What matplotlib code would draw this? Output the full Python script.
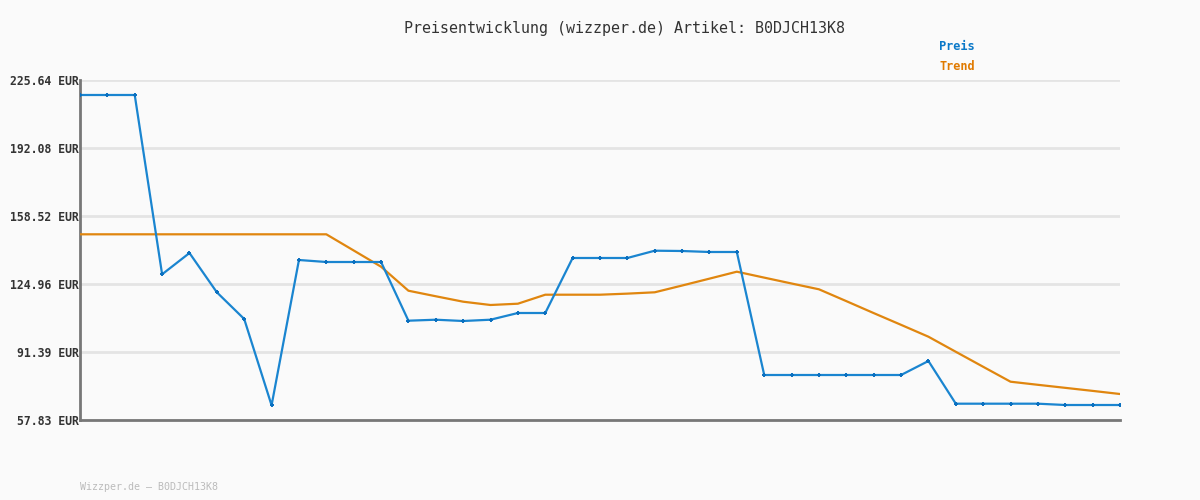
import matplotlib
matplotlib.use("Agg")
import matplotlib.pyplot as plt

# values
preis = [218.24, 218.24, 218.24, 129.74, 140.25, 120.86, 107.68, 65.09,
         136.80, 135.81, 135.81, 135.81, 106.84, 107.33, 106.69, 107.33,
         110.64, 110.64, 137.79, 137.79, 137.79, 141.39, 141.24, 140.75,
         140.75, 80.04, 80.04, 80.04, 80.04, 80.04, 80.04, 86.95,
         65.88, 65.88, 65.88, 65.88, 65.23, 65.23, 65.23]
trend = [149.48, 149.48, 149.48, 149.48, 149.48, 149.48, 149.48, 149.48,
         149.48, 149.48, 141.5, 133.49, 121.64, 118.9, 116.22, 114.59,
         115.23, 119.67, 119.67, 119.67, 120.2, 120.86, 124.2, 127.6,
         131.03, 128.1, 125.2, 122.34, 116.5, 110.6, 104.8, 98.94,
         91.5, 84.1, 76.73, 75.2, 73.7, 72.2, 70.66]
yticks = [57.83, 91.39, 124.96, 158.52, 192.08, 225.64]
ytick_labels = [f"{v:.2f} EUR" for v in yticks]
artikel = "B0DJCH13K8"

bg = "#fafafa"
mono = "DejaVu Sans Mono"

fig = plt.figure(figsize=(12, 5), dpi=100, facecolor=bg)
ax = fig.add_axes([80 / 1200, 80 / 500, 1040 / 1200, 340 / 500], facecolor=bg)

x = list(range(len(preis)))
ax.plot(x, trend, color="#e0860f", lw=1.6, zorder=3)
ax.plot(x, preis, color="#1a85d0", lw=1.6, marker="+", markersize=3.5,
        markeredgewidth=1.4, markeredgecolor="#0a70c0", zorder=4)

ax.set_xlim(0, len(preis) - 1)
ax.set_ylim(yticks[0], yticks[-1])
ax.set_yticks(yticks)
ax.set_yticklabels(ytick_labels, fontfamily=mono, fontsize=8.3,
                   fontweight="bold", color="#333333")
ax.set_xticks([])
ax.tick_params(axis="y", length=0, pad=1)
ax.grid(axis="y", color="#e4e4e4", lw=2, zorder=0)
for s in ["top", "right"]:
    ax.spines[s].set_visible(False)
for s in ["left", "bottom"]:
    ax.spines[s].set_color("#777777")
    ax.spines[s].set_linewidth(2)

fig.text(624 / 1200, 1 - 28 / 500, f"Preisentwicklung (wizzper.de) Artikel: {artikel}",
         ha="center", va="center", fontfamily=mono, fontsize=10.8, color="#333333")
fig.text(975 / 1200, 1 - 47 / 500, "Preis", ha="right", va="center",
         fontfamily=mono, fontsize=8.6, fontweight="bold", color="#0a78c8")
fig.text(975 / 1200, 1 - 67 / 500, "Trend", ha="right", va="center",
         fontfamily=mono, fontsize=8.6, fontweight="bold", color="#e07a00")
fig.text(80 / 1200, 1 - 487 / 500, f"Wizzper.de – {artikel}", ha="left", va="center",
         fontfamily=mono, fontsize=7.2, color="#bbbbbb")

fig.savefig("out.png", dpi=100, facecolor=bg)
